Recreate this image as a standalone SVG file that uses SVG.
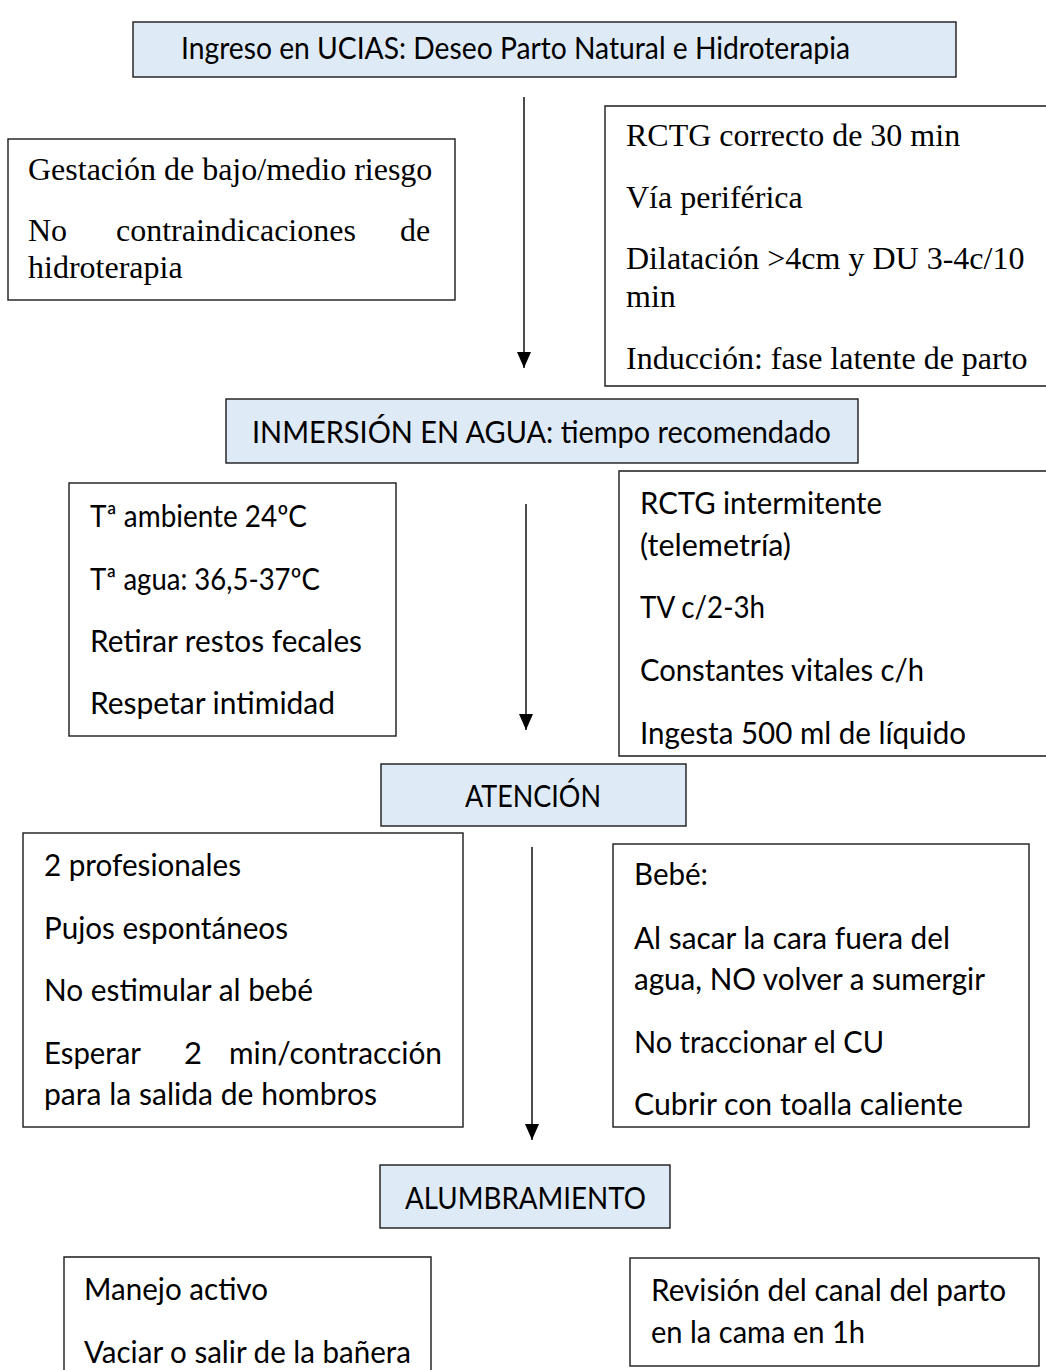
<svg xmlns="http://www.w3.org/2000/svg" width="1046" height="1370" viewBox="0 0 1046 1370">
<style>
.bx{fill:#ffffff;stroke:#1a1a1a;stroke-width:1.4}
.hd{fill:#deeaf6;stroke:#1a1a1a;stroke-width:1.4}
.s{font-family:Lato,"Liberation Sans",sans-serif;font-size:31px;fill:#000}
.t{font-family:"Liberation Serif","Times New Roman",serif;font-size:32px;fill:#000}
.ln{stroke:#000;stroke-width:1.4;fill:none}
</style>
<defs>
<marker id="ah" markerWidth="16" markerHeight="14" refX="16" refY="7" orient="auto" markerUnits="userSpaceOnUse" viewBox="0 0 16 14">
<path d="M0,0 L16,7 L0,14 Z" fill="#000"/>
</marker>
</defs>
<g id="connectors">
<line class="ln" x1="524" y1="97" x2="524" y2="368" marker-end="url(#ah)"/>
<line class="ln" x1="526" y1="504" x2="526" y2="730" marker-end="url(#ah)"/>
<line class="ln" x1="532" y1="847" x2="532" y2="1140" marker-end="url(#ah)"/>
</g>
<g id="n1">
<rect class="hd" x="133" y="22" width="823" height="55"/>
<text class="s" x="181" y="59" textLength="669" lengthAdjust="spacingAndGlyphs">Ingreso en UCIAS: Deseo Parto Natural e Hidroterapia</text>
</g>
<g id="n2">
<rect class="bx" x="8" y="139" width="447" height="161"/>
<text class="t" x="28" y="180">Gestación de bajo/medio riesgo</text>
<text class="t" y="241"><tspan x="28">No</tspan><tspan x="116">contraindicaciones</tspan><tspan x="400">de</tspan></text>
<text class="t" x="28" y="278">hidroterapia</text>
</g>
<g id="n3">
<path class="bx" d="M1047,106 L605,106 L605,386 L1047,386"/>
<text class="t" x="626" y="146">RCTG correcto de 30 min</text>
<text class="t" x="626" y="208">Vía periférica</text>
<text class="t" x="626" y="269">Dilatación &gt;4cm y DU 3-4c/10</text>
<text class="t" x="626" y="307">min</text>
<text class="t" x="626" y="369">Inducción: fase latente de parto</text>
</g>
<g id="n4">
<rect class="hd" x="226" y="399" width="632" height="64"/>
<text class="s" x="252" y="443" textLength="579" lengthAdjust="spacingAndGlyphs">INMERSIÓN EN AGUA: tiempo recomendado</text>
</g>
<g id="n5">
<rect class="bx" x="69" y="483" width="327" height="253"/>
<text class="s" x="90" y="527" textLength="217" lengthAdjust="spacingAndGlyphs">Tª ambiente 24ºC</text>
<text class="s" x="90" y="590" textLength="230" lengthAdjust="spacingAndGlyphs">Tª agua: 36,5-37ºC</text>
<text class="s" x="90" y="652" textLength="272" lengthAdjust="spacingAndGlyphs">Retirar restos fecales</text>
<text class="s" x="90" y="714" textLength="245" lengthAdjust="spacingAndGlyphs">Respetar intimidad</text>
</g>
<g id="n6">
<path class="bx" d="M1047,471 L619,471 L619,756 L1047,756"/>
<text class="s" x="640" y="514" textLength="242" lengthAdjust="spacingAndGlyphs">RCTG intermitente</text>
<text class="s" x="640" y="556" textLength="151" lengthAdjust="spacingAndGlyphs">(telemetría)</text>
<text class="s" x="640" y="618" textLength="125" lengthAdjust="spacingAndGlyphs">TV c/2-3h</text>
<text class="s" x="640" y="681" textLength="284" lengthAdjust="spacingAndGlyphs">Constantes vitales c/h</text>
<text class="s" x="640" y="744" textLength="326" lengthAdjust="spacingAndGlyphs">Ingesta 500 ml de líquido</text>
</g>
<g id="n7">
<rect class="hd" x="381" y="764" width="305" height="62"/>
<text class="s" x="465" y="807" textLength="136" lengthAdjust="spacingAndGlyphs">ATENCIÓN</text>
</g>
<g id="n8">
<rect class="bx" x="23" y="833" width="440" height="294"/>
<text class="s" x="44" y="876" textLength="197" lengthAdjust="spacingAndGlyphs">2 profesionales</text>
<text class="s" x="44" y="939" textLength="244" lengthAdjust="spacingAndGlyphs">Pujos espontáneos</text>
<text class="s" x="44" y="1001" textLength="269" lengthAdjust="spacingAndGlyphs">No estimular al bebé</text>
<text class="s" y="1064"><tspan x="44" textLength="97" lengthAdjust="spacingAndGlyphs">Esperar</tspan><tspan x="184">2</tspan><tspan x="229" textLength="213" lengthAdjust="spacingAndGlyphs">min/contracción</tspan></text>
<text class="s" x="44" y="1105" textLength="333" lengthAdjust="spacingAndGlyphs">para la salida de hombros</text>
</g>
<g id="n9">
<rect class="bx" x="613" y="844" width="416" height="283"/>
<text class="s" x="634" y="885" textLength="74" lengthAdjust="spacingAndGlyphs">Bebé:</text>
<text class="s" x="634" y="949" textLength="316" lengthAdjust="spacingAndGlyphs">Al sacar la cara fuera del</text>
<text class="s" x="634" y="990" textLength="351" lengthAdjust="spacingAndGlyphs">agua, NO volver a sumergir</text>
<text class="s" x="634" y="1053" textLength="250" lengthAdjust="spacingAndGlyphs">No traccionar el CU</text>
<text class="s" x="634" y="1115" textLength="329" lengthAdjust="spacingAndGlyphs">Cubrir con toalla caliente</text>
</g>
<g id="n10">
<rect class="hd" x="380" y="1165" width="290" height="63"/>
<text class="s" x="405" y="1209" textLength="241" lengthAdjust="spacingAndGlyphs">ALUMBRAMIENTO</text>
</g>
<g id="n11">
<path class="bx" d="M64,1371 L64,1257 L431,1257 L431,1371"/>
<text class="s" x="84" y="1300" textLength="184" lengthAdjust="spacingAndGlyphs">Manejo activo</text>
<text class="s" x="84" y="1363" textLength="327" lengthAdjust="spacingAndGlyphs">Vaciar o salir de la bañera</text>
</g>
<g id="n12">
<rect class="bx" x="630" y="1258" width="409" height="108"/>
<text class="s" x="651" y="1301" textLength="355" lengthAdjust="spacingAndGlyphs">Revisión del canal del parto</text>
<text class="s" x="651" y="1343" textLength="214" lengthAdjust="spacingAndGlyphs">en la cama en 1h</text>
</g>
</svg>
